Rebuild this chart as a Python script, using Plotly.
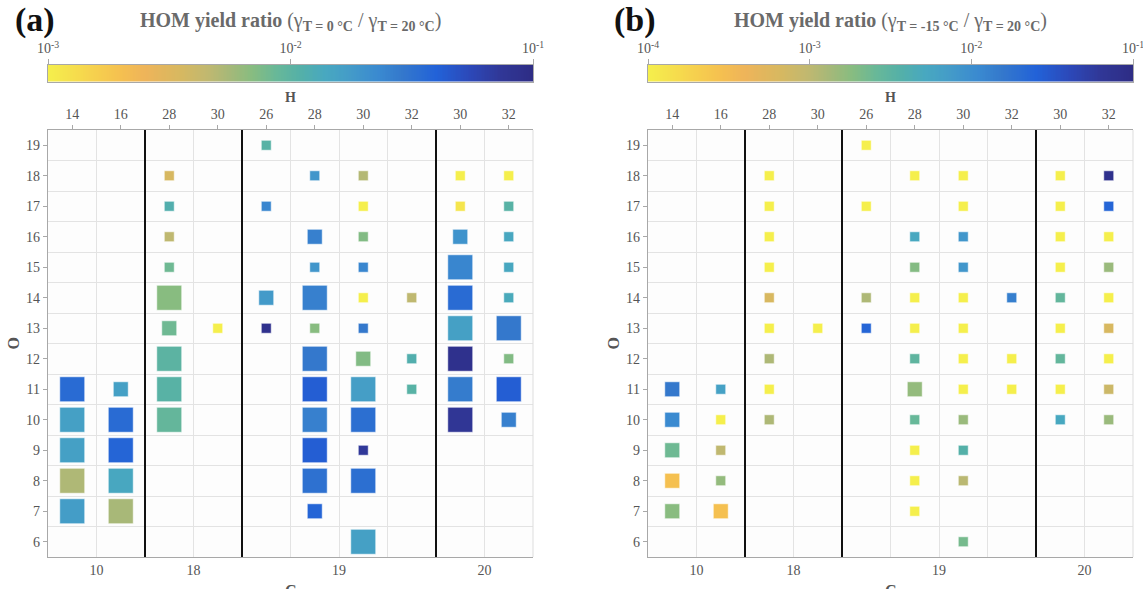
import numpy as np
import plotly.graph_objects as go

# ---------------- data ----------------
col_C = [10, 10, 18, 18, 19, 19, 19, 19, 20, 20]
col_H = [14, 16, 28, 30, 26, 28, 30, 32, 30, 32]
O_values = list(range(6, 20))

# panel (a): T = 0 °C / T = 20 °C
a_C = [10]*5 + [10]*5 + [18]*9 + [18] + [19]*4 + [19]*11 + [19]*12 + [19]*3 + [20]*9 + [20]*9
a_H = ([14]*5 + [16]*5 + [28]*9 + [30] + [26]*4 + [28]*11 + [30]*12 + [32]*3 + [30]*9 + [32]*9)
a_O = ([11, 10, 9, 8, 7] + [11, 10, 9, 8, 7] + [18, 17, 16, 15, 14, 13, 12, 11, 10] + [13]
       + [19, 17, 14, 13] + [18, 16, 15, 14, 13, 12, 11, 10, 9, 8, 7]
       + [18, 17, 16, 15, 14, 13, 12, 11, 10, 9, 8, 6] + [14, 12, 11]
       + [18, 17, 16, 15, 14, 13, 12, 11, 10] + [18, 17, 16, 15, 14, 13, 12, 11, 10])
a_ratio = ([0.035, 0.016, 0.016, 0.0052, 0.017]
           + [0.016, 0.035, 0.038, 0.014, 0.0055]
           + [0.0035, 0.0115, 0.0046, 0.0083, 0.0069, 0.0083, 0.010, 0.0105, 0.0091]
           + [0.0009]
           + [0.0105, 0.024, 0.018, 0.087]
           + [0.019, 0.026, 0.019, 0.026, 0.0069, 0.029, 0.042, 0.026, 0.042, 0.032, 0.038]
           + [0.005, 0.0009, 0.0072, 0.024, 0.0009, 0.029, 0.0072, 0.0166, 0.033, 0.072, 0.033, 0.016]
           + [0.0046, 0.0115, 0.0105]
           + [0.0009, 0.00115, 0.020, 0.024, 0.035, 0.016, 0.087, 0.0275, 0.076]
           + [0.0009, 0.0105, 0.014, 0.014, 0.0132, 0.029, 0.0072, 0.042, 0.026])
a_sizeclass = ([3, 3, 3, 3, 3] + [2, 3, 3, 3, 3] + [1, 1, 1, 1, 3, 2, 3, 3, 3] + [1]
               + [1, 1, 2, 1] + [1, 2, 1, 3, 1, 3, 3, 3, 3, 3, 2]
               + [1, 1, 1, 1, 1, 1, 2, 3, 3, 1, 3, 3] + [1, 1, 1]
               + [1, 1, 2, 3, 3, 3, 3, 3, 3] + [1, 1, 1, 1, 1, 3, 1, 3, 2])

# panel (b): T = -15 °C / T = 20 °C
b_C = [10]*5 + [10]*5 + [18]*9 + [18] + [19]*4 + [19]*11 + [19]*12 + [19]*3 + [20]*9 + [20]*9
b_H = ([14]*5 + [16]*5 + [28]*9 + [30] + [26]*4 + [28]*11 + [30]*12 + [32]*3 + [30]*9 + [32]*9)
b_O = ([11, 10, 9, 8, 7] + [11, 10, 9, 8, 7] + [18, 17, 16, 15, 14, 13, 12, 11, 10] + [13]
       + [19, 17, 14, 13] + [18, 16, 15, 14, 13, 12, 11, 10, 9, 8, 7]
       + [18, 17, 16, 15, 14, 13, 12, 11, 10, 9, 8, 6] + [14, 12, 11]
       + [18, 17, 16, 15, 14, 13, 12, 11, 10] + [18, 17, 16, 15, 14, 13, 12, 11, 10])
b_ratio = ([0.0155, 0.011, 0.0024, 0.00028, 0.0018]
           + [0.0063, 0.00009, 0.00098, 0.0016, 0.00028]
           + [0.00009, 0.00009, 0.00009, 0.00009, 0.00065, 0.00009, 0.0012, 0.00009, 0.0012]
           + [0.00009]
           + [0.00009, 0.00009, 0.0012, 0.0234]
           + [0.00009, 0.0051, 0.0019, 0.00009, 0.00009, 0.0030, 0.0016, 0.0026, 0.00009, 0.00009, 0.00009]
           + [0.00009, 0.00009, 0.0083, 0.0083, 0.00009, 0.00009, 0.00009, 0.00009, 0.0015, 0.0036, 0.00105, 0.0022]
           + [0.0135, 0.00009, 0.00009]
           + [0.00009, 0.00009, 0.00009, 0.00009, 0.0028, 0.00009, 0.0028, 0.00009, 0.0051]
           + [0.081, 0.0234, 0.00009, 0.0015, 0.00009, 0.00065, 0.00009, 0.0008, 0.0015])
b_sizeclass = ([2, 2, 2, 2, 2] + [1, 1, 1, 1, 2] + [1]*9 + [1]
               + [1, 1, 1, 1] + [1, 1, 1, 1, 1, 1, 2, 1, 1, 1, 1]
               + [1]*12 + [1, 1, 1] + [1]*9 + [1]*9)

a_range = (-3, -1)   # log10 colour range
b_range = (-4, -1)

# ---------------- styling ----------------
FONT = "Liberation Serif"
TICKC = "#555555"
GRIDC = "#e3e3e3"
AXC = "#a8a8a8"
size_px = {1: 10, 2: 15, 3: 25}

cscale = [
    [0.00, "#f5ef4c"], [0.10, "#f6cf4e"], [0.15, "#f5c050"], [0.20, "#eeb45a"],
    [0.27, "#d8b860"], [0.33, "#c0b870"], [0.37, "#a8b878"], [0.42, "#88bc80"],
    [0.47, "#68b898"], [0.52, "#54b0a8"], [0.57, "#48a8c0"], [0.62, "#449cc8"],
    [0.68, "#3a8ad0"], [0.73, "#3478cc"], [0.80, "#2262d8"], [0.87, "#2c48b8"],
    [0.93, "#303898"], [1.00, "#2e2c84"],
]

W, H = 1143, 589
def px_x(p): return p / W
def px_y(p): return 1 - p / H

panels = [
    dict(C=a_C, Hh=a_H, O=a_O, r=a_ratio, s=a_sizeclass, rng=a_range,
         x0=48, x1=533, label="<b>(a)</b>", temp="0"),
    dict(C=b_C, Hh=b_H, O=b_O, r=b_ratio, s=b_sizeclass, rng=b_range,
         x0=648, x1=1133, label="<b>(b)</b>", temp="-15"),
]

col_key = {(c, h): i for i, (c, h) in enumerate(zip(col_C, col_H))}
ncol = len(col_C)

# group centres and boundaries
groups = []
for c in sorted(set(col_C)):
    idx = [i for i, cc in enumerate(col_C) if cc == c]
    groups.append((c, (idx[0] + idx[-1]) / 2, idx[-1] + 0.5))
bound_vals = [i + 0.5 for i in range(ncol - 1)]
bottom_text = []
for b in bound_vals:
    t = ""
    for c, mid, _ in groups:
        if abs(mid - b) < 1e-9:
            t = str(c)
    bottom_text.append(t)
group_sep = [g[2] for g in groups[:-1]]

fig = go.Figure()
layout = dict(width=W, height=H, margin=dict(l=0, r=0, t=0, b=0, autoexpand=False),
              paper_bgcolor="white", plot_bgcolor="#fdfdfd", showlegend=False,
              font=dict(family=FONT, color=TICKC, size=14))
shapes, annotations = [], []

yd = [px_y(557), px_y(130)]
cbd = [px_y(81.5), px_y(65)]

for k, p in enumerate(panels):
    n = k * 3
    xb, xt, xc = f"x{n+1 if n else ''}", f"x{n+2}", f"x{n+3}"
    yb, yc = f"y{2*k+1 if k else ''}", f"y{2*k+2}"
    xbn = "xaxis" + (str(n + 1) if n else "")
    ybn = "yaxis" + (str(2 * k + 1) if k else "")
    dom = [px_x(p["x0"]), px_x(p["x1"])]
    lo, hi = p["rng"]

    xs = [col_key[(c, h)] for c, h in zip(p["C"], p["Hh"])]
    logs = np.log10(np.array(p["r"], dtype=float))
    fig.add_trace(go.Scatter(
        x=xs, y=p["O"], mode="markers", xaxis=xb, yaxis=yb,
        marker=dict(symbol="square", size=[size_px[s] for s in p["s"]], opacity=1,
                    color=logs, cmin=lo, cmax=hi, colorscale=cscale,
                    line=dict(width=1, color="rgba(255,255,255,0.6)")),
        hoverinfo="skip"))
    # invisible trace for the top (H) axis
    fig.add_trace(go.Scatter(x=list(range(ncol)), y=[O_values[0]] * ncol, mode="markers",
                             xaxis=xt, yaxis=yb, marker=dict(opacity=0), hoverinfo="skip"))
    # colour bar as heatmap
    gx = np.linspace(lo, hi, 300)
    fig.add_trace(go.Heatmap(x=gx, y=[0], z=[gx], zmin=lo, zmax=hi, colorscale=cscale,
                             showscale=False, xaxis=xc, yaxis=yc, hoverinfo="skip"))

    layout[xbn] = dict(domain=dom, anchor=yb, range=[-0.5, ncol - 0.5], automargin=False,
                       tickmode="array", tickvals=bound_vals, ticktext=bottom_text,
                       showgrid=True, gridcolor=GRIDC, gridwidth=1, ticks="",
                       showline=True, linecolor=AXC, linewidth=1.2, zeroline=False,
                       tickfont=dict(size=14, color=TICKC))
    layout["xaxis" + str(n + 2)] = dict(overlaying=xb, side="top", anchor=yb, automargin=False,
                                        range=[-0.5, ncol - 0.5], tickmode="array",
                                        tickvals=list(range(ncol)), ticktext=[str(h) for h in col_H],
                                        ticks="outside", ticklen=4, tickcolor=AXC,
                                        showgrid=False, showline=True, linecolor=AXC,
                                        linewidth=1.2, zeroline=False,
                                        tickfont=dict(size=14, color=TICKC))
    layout[ybn] = dict(domain=yd, anchor=xb, range=[O_values[0] - 0.5, O_values[-1] + 0.5],
                       automargin=False,
                       tickmode="array", tickvals=O_values, ticktext=[str(o) for o in O_values],
                       ticks="outside", ticklen=4, tickcolor=AXC, showgrid=False,
                       minor=dict(tickmode="array",
                                  tickvals=[o - 0.5 for o in O_values] + [O_values[-1] + 0.5],
                                  showgrid=True, gridcolor=GRIDC, gridwidth=1, ticks=""),
                       showline=True, linecolor=AXC, linewidth=1.2, zeroline=False,
                       tickfont=dict(size=14, color=TICKC))
    layout["xaxis" + str(n + 3)] = dict(domain=dom, anchor=yc, side="top", range=[lo, hi],
                                        automargin=False, ticklabeloverflow="allow",
                                        tickmode="array", tickvals=list(range(lo, hi + 1)),
                                        ticktext=[f"10<sup>{v}</sup>" for v in range(lo, hi + 1)],
                                        ticks="outside", ticklen=5, tickcolor=AXC,
                                        showline=True, mirror=True, linecolor=AXC, linewidth=1,
                                        showgrid=False, zeroline=False,
                                        tickfont=dict(size=14, color=TICKC))
    layout["yaxis" + str(2 * k + 2)] = dict(domain=cbd, anchor=xc, range=[-0.5, 0.5],
                                            automargin=False,
                                            showticklabels=False, ticks="", showgrid=False,
                                            zeroline=False, showline=True, mirror=True,
                                            linecolor=AXC, linewidth=1)

    for sx in group_sep:
        shapes.append(dict(type="line", xref=xb, yref=yb + " domain", x0=sx, x1=sx,
                           y0=0, y1=1, line=dict(color="#111111", width=2)))
    shapes.append(dict(type="line", xref=xb + " domain", yref=yb + " domain", x0=1, x1=1,
                       y0=0, y1=1, line=dict(color="#dddddd", width=1)))

    cx = (dom[0] + dom[1]) / 2
    annotations += [
        dict(text=p["label"], x=px_x(p["x0"] - 13), y=px_y(20), xref="paper", yref="paper",
             showarrow=False, xanchor="center", yanchor="middle",
             font=dict(family=FONT, size=34, color="#111111")),
        dict(text=f"<b>HOM yield ratio</b> (γ<sub><b>T = {p['temp']} °C</b></sub> / γ<sub><b>T = 20 °C</b></sub>)",
             x=cx, y=px_y(21), xref="paper", yref="paper", showarrow=False,
             xanchor="center", yanchor="middle", font=dict(family=FONT, size=20, color="#6a6a6a")),
        dict(text="<b>H</b>", x=cx, y=px_y(97), xref="paper", yref="paper", showarrow=False,
             xanchor="center", yanchor="middle", font=dict(family=FONT, size=14, color="#555555")),
        dict(text="<b>C</b>", x=cx, y=px_y(590), xref="paper", yref="paper", showarrow=False,
             xanchor="center", yanchor="middle", font=dict(family=FONT, size=16, color="#555555")),
        dict(text="<b>O</b>", x=px_x(p["x0"] - 35), y=(yd[0] + yd[1]) / 2, xref="paper",
             yref="paper", showarrow=False, textangle=-90, xanchor="center", yanchor="middle",
             font=dict(family=FONT, size=16, color="#555555")),
    ]

layout["shapes"] = shapes
layout["annotations"] = annotations
fig.update_layout(**layout)
fig.write_html("out.html")
